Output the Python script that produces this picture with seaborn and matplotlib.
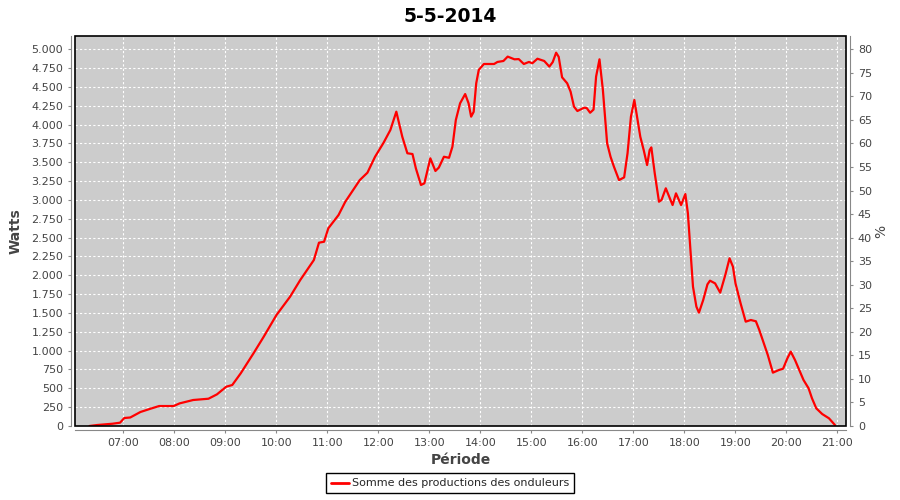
import numpy as np
import pandas as pd
import matplotlib
matplotlib.use("Agg")
import matplotlib.pyplot as plt
import matplotlib.dates as mdates
from matplotlib.patches import Rectangle
from matplotlib.ticker import FuncFormatter, MultipleLocator
import seaborn as sns

# Data (time of day, watts)
times = ["06:20", "06:29", "06:47", "06:56", "07:01", "07:08", "07:20", "07:32",
         "07:42", "07:59", "08:06", "08:22", "08:40", "08:50", "09:01", "09:08",
         "09:18", "09:33", "09:45", "10:00", "10:16", "10:28", "10:44", "10:50",
         "10:56", "11:01", "11:13", "11:21", "11:38", "11:47", "11:56", "12:06",
         "12:14", "12:21", "12:28", "12:34", "12:40", "12:44", "12:50", "12:54",
         "13:01", "13:07", "13:11", "13:17", "13:23", "13:27", "13:31", "13:36",
         "13:42", "13:46", "13:49", "13:52", "13:55", "13:58", "14:04", "14:16",
         "14:20", "14:27", "14:32", "14:40", "14:45", "14:51", "14:57", "15:01",
         "15:07", "15:15", "15:21", "15:25", "15:29", "15:32", "15:36", "15:42",
         "15:46", "15:50", "15:54", "16:02", "16:05", "16:09", "16:13", "16:16",
         "16:20", "16:24", "16:29", "16:33", "16:37", "16:43", "16:49", "16:53",
         "16:57", "17:01", "17:08", "17:12", "17:16", "17:19", "17:21", "17:25",
         "17:30", "17:33", "17:38", "17:42", "17:46", "17:50", "17:56", "18:01",
         "18:04", "18:07", "18:10", "18:14", "18:17", "18:22", "18:27", "18:30",
         "18:36", "18:42", "18:48", "18:53", "18:57", "19:00", "19:06", "19:12",
         "19:18", "19:24", "19:28", "19:34", "19:38", "19:44", "19:51", "19:56",
         "20:01", "20:05", "20:10", "20:15", "20:20", "20:26", "20:30", "20:35",
         "20:42", "20:50", "20:57"]
watts = [0, 13, 30, 44, 106, 113, 186, 230,
         265, 265, 300, 345, 362, 420, 522, 544,
         700, 965, 1185, 1473, 1716, 1938, 2203, 2433,
         2446, 2624, 2800, 2977, 3264, 3362, 3574, 3760,
         3929, 4172, 3840, 3620, 3610, 3420, 3199, 3221,
         3553, 3385, 3430, 3574, 3560, 3707, 4061, 4283,
         4406, 4283, 4106, 4170, 4549, 4726, 4805, 4805,
         4832, 4845, 4903, 4867, 4870, 4805, 4832, 4815,
         4875, 4845, 4770, 4830, 4955, 4900, 4628, 4549,
         4438, 4239, 4181, 4225, 4220, 4158, 4200, 4637,
         4867, 4460, 3752, 3574, 3442, 3264, 3300, 3620,
         4106, 4327, 3840, 3663, 3464, 3663, 3698, 3354,
         2977, 3000, 3155, 3043, 2933, 3088, 2933, 3079,
         2823, 2336, 1849, 1584, 1504, 1672, 1880, 1929,
         1893, 1770, 2004, 2226, 2114, 1893, 1628, 1385,
         1407, 1390, 1274, 1075, 942, 708, 743, 760,
         898, 987, 876, 743, 611, 500, 367, 235,
         159, 102, 13]

title = "5-5-2014"
series_name = "Somme des productions des onduleurs"

df = pd.DataFrame({
    "time": pd.to_datetime(["2014-05-05 " + t for t in times]),
    "watts": watts,
    "serie": series_name,
})

sns.set_style("ticks")
plt.rcParams["font.family"] = ["DejaVu Sans"]

fig = plt.figure(figsize=(9, 5), dpi=100)
ax = fig.add_axes([75 / 900, 1 - 426 / 500, 771 / 900, 390 / 500])
ax.set_facecolor("#cccccc")

sns.lineplot(data=df, x="time", y="watts", hue="serie", palette=["#ff0000"],
             linewidth=1.6, ax=ax, legend=False)

ymax = 5000 * 390 / 376.7
ax.set_ylim(0, ymax)
ax.set_xlim(pd.Timestamp("2014-05-05 06:03"), pd.Timestamp("2014-05-05 21:10"))
ax.yaxis.set_major_locator(MultipleLocator(250))
ax.yaxis.set_major_formatter(FuncFormatter(lambda v, p: f"{v:,.0f}".replace(",", ".")))
ax.xaxis.set_major_locator(mdates.HourLocator())
ax.xaxis.set_major_formatter(mdates.DateFormatter("%H:%M"))
ax.grid(True, color="white", linestyle=(0, (2, 2)), linewidth=0.8)

for s in ax.spines.values():
    s.set_visible(False)
for side in ["left", "bottom"]:
    ax.spines[side].set_visible(True)
    ax.spines[side].set_position(("outward", 3))
    ax.spines[side].set_color("#888888")
ax.add_patch(Rectangle((0, 0), 1, 1, transform=ax.transAxes, fill=False,
                       edgecolor="black", linewidth=1.2, clip_on=False, zorder=5))
ax.tick_params(colors="#888888", labelcolor="#444444", labelsize=8, length=2)
ax.set_xlabel("Période", fontsize=10, color="#444444", fontweight="bold", labelpad=4)
ax.set_ylabel("Watts", fontsize=10, color="#444444", fontweight="bold", labelpad=6)

# right axis in percent
ax2 = ax.twinx()
ax2.set_ylim(0, ymax * 80 / 5000)
ax2.yaxis.set_major_locator(MultipleLocator(5))
for s in ax2.spines.values():
    s.set_visible(False)
ax2.spines["right"].set_visible(True)
ax2.spines["right"].set_position(("outward", 3))
ax2.spines["right"].set_color("#888888")
ax2.tick_params(colors="#888888", labelcolor="#444444", labelsize=8, length=2)
ax2.set_ylabel("%", fontsize=10, color="#444444", labelpad=2)

fig.suptitle(title, x=0.5, y=0.985, fontsize=13.5, fontweight="heavy", color="black")

handle = plt.Line2D([], [], color="#ff0000", linewidth=2)
leg = fig.legend([handle], [series_name], loc="lower center", bbox_to_anchor=(0.5, 0.002),
                 frameon=True, fancybox=False, edgecolor="black", framealpha=1,
                 fontsize=8, handlelength=1.6, handletextpad=0.3, borderpad=0.45)
leg.get_frame().set_linewidth(1.0)

fig.savefig("out.png", dpi=100)
